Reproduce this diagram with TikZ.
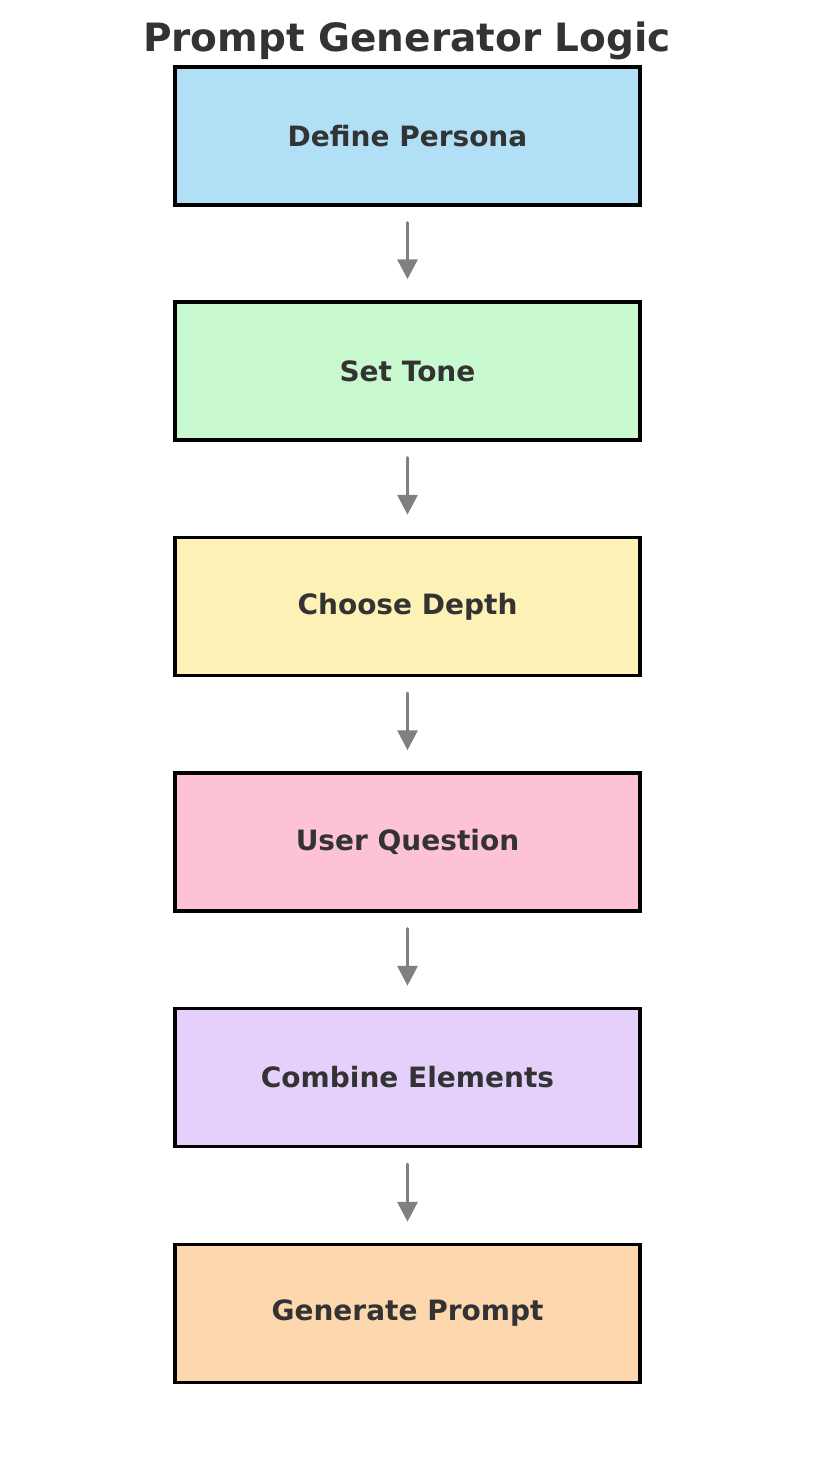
\documentclass[tikz,border=0pt]{standalone}
\usepackage{fontspec}
\setmainfont{DejaVu Sans}
\usetikzlibrary{arrows.meta}
\definecolor{txt}{HTML}{333333}
\definecolor{c1}{HTML}{B0DFF6}
\definecolor{c2}{HTML}{C9F9CE}
\definecolor{c3}{HTML}{FEF1B5}
\definecolor{c4}{HTML}{FDC2D4}
\definecolor{c5}{HTML}{E5D0FC}
\definecolor{c6}{HTML}{FDD8AE}
\definecolor{arr}{HTML}{808080}
\tikzset{
  stepbox/.style={draw=black, line width=3.5pt, minimum width=465pt, minimum height=138pt,
    inner sep=0pt, font=\fontsize{28}{33}\selectfont\bfseries, text=txt},
  flow/.style={draw=arr, line width=3.5pt, line cap=round, -{Triangle[length=20pt,width=20pt]}, shorten <=16pt, shorten >=21pt}
}
\begin{document}
\begin{tikzpicture}[x=1pt,y=-1pt]
\useasboundingbox (0,0) rectangle (814,1472);
\node[font=\fontsize{39}{45}\selectfont\bfseries, text=txt] (title) at (407,40.5) {Prompt Generator Logic};
\node[stepbox, fill=c1] (b1) at (407.5,136) {Define Persona};
\node[stepbox, fill=c2] (b2) at (407.5,371) {Set Tone};
\node[stepbox, fill=c3] (b3) at (407.5,606.5) {Choose Depth};
\node[stepbox, fill=c4] (b4) at (407.5,842) {User Question};
\node[stepbox, fill=c5] (b5) at (407.5,1077.5) {Combine Elements};
\node[stepbox, fill=c6] (b6) at (407.5,1313.5) {Generate Prompt};
\draw[flow] (b1.south) -- (b2.north);
\draw[flow] (b2.south) -- (b3.north);
\draw[flow] (b3.south) -- (b4.north);
\draw[flow] (b4.south) -- (b5.north);
\draw[flow] (b5.south) -- (b6.north);
\end{tikzpicture}
\end{document}
